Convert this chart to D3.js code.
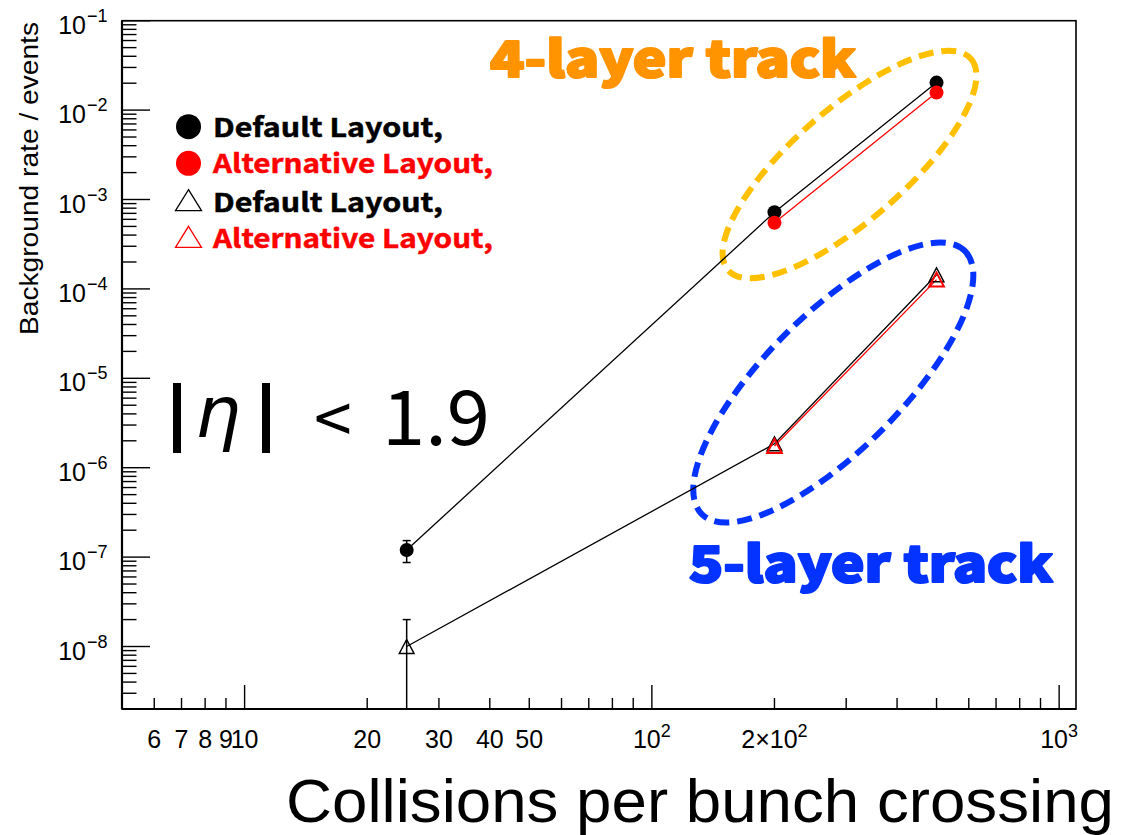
<!DOCTYPE html>
<html>
<head>
<meta charset="utf-8">
<script src="https://cdn.jsdelivr.net/npm/d3@7"></script>
<style>
  body { margin: 0; background: #fff; }
  svg { display: block; }
</style>
</head>
<body>
<svg id="chart" width="1125" height="835"></svg>
<script>
// ---- data -------------------------------------------------------------
const pileup = [25, 200, 500];

// 4-layer tracks (filled circles)
const defaultFourLayer    = [1.2e-7, 7.2e-4, 2.03e-2];
const defaultFourLayerErr = [0.33e-7, 0, 0];
const altFourLayer        = [null, 5.5e-4, 1.57e-2];

// 5-layer tracks (open triangles)
const defaultFiveLayer    = [1.0e-8, 1.85e-6, 1.44e-4];
const defaultFiveLayerErr = [1.0e-8, 0, 0];
const altFiveLayer        = [null, 1.75e-6, 1.27e-4];

const xDomain = [5, 1100];
const yDomain = [2e-9, 0.1];

// x tick labels: value, base text, superscript
const xTickValues = [6, 7, 8, 9, 10, 20, 30, 40, 50, 100, 200, 1000];
const xTickBase   = ["6", "7", "8", "9", "10", "20", "30", "40", "50", "10", "2\u00d710", "10"];
const xTickSup    = ["", "", "", "", "", "", "", "", "", "2", "2", "3"];

// y tick labels are decades
const yDecades = [-8, -7, -6, -5, -4, -3, -2, -1];

const legendLabels = ["Default Layout,", "Alternative Layout,", "Default Layout,", "Alternative Layout,"];
const legendColors = ["#000000", "#ff0000", "#000000", "#ff0000"];
const legendShapes = ["circle", "circle", "triangle", "triangle"];

// ---- layout -----------------------------------------------------------
const plot = { left: 122, right: 1076, top: 20.7, bottom: 709 };

const x = d3.scaleLog().domain(xDomain).range([plot.left, plot.right]);
const y = d3.scaleLog().domain(yDomain).range([plot.bottom, plot.top]);

const svg = d3.select("#chart");

svg.append("defs").append("clipPath").attr("id", "plotClip")
  .append("rect")
  .attr("x", plot.left).attr("y", plot.top)
  .attr("width", plot.right - plot.left).attr("height", plot.bottom - plot.top);

// ---- frame and ticks --------------------------------------------------
const axisG = svg.append("g").attr("stroke", "#000");

axisG.append("rect")
  .attr("x", plot.left).attr("y", plot.top)
  .attr("width", plot.right - plot.left).attr("height", plot.bottom - plot.top)
  .attr("fill", "none").attr("stroke-width", 1.6);
axisG.append("line")
  .attr("x1", plot.left).attr("x2", plot.left)
  .attr("y1", plot.top).attr("y2", plot.bottom).attr("stroke-width", 2.2);
axisG.append("line")
  .attr("x1", plot.left).attr("x2", plot.right)
  .attr("y1", plot.bottom).attr("y2", plot.bottom).attr("stroke-width", 2.2);

// y ticks: major at decades, minor at 2..9
const yTicks = [];
for (let e = -9; e <= -1; e++) {
  for (let m = 1; m <= 9; m++) {
    const v = m * Math.pow(10, e);
    if (v >= yDomain[0] * 0.999 && v <= yDomain[1] * 1.001) yTicks.push({ v, major: m === 1 });
  }
}
axisG.selectAll(".ytick").data(yTicks).join("line")
  .attr("x1", plot.left)
  .attr("x2", d => plot.left + (d.major ? 28 : 14.5))
  .attr("y1", d => y(d.v)).attr("y2", d => y(d.v))
  .attr("stroke-width", 1.4);

// x ticks
const xTicks = [];
for (let e = 0; e <= 3; e++) {
  for (let m = 1; m <= 9; m++) {
    const v = m * Math.pow(10, e);
    if (v >= xDomain[0] && v <= xDomain[1]) xTicks.push({ v, major: m === 1 });
  }
}
axisG.selectAll(".xtick").data(xTicks).join("line")
  .attr("x1", d => x(d.v)).attr("x2", d => x(d.v))
  .attr("y1", plot.bottom)
  .attr("y2", d => plot.bottom - (d.major ? 24 : 11))
  .attr("stroke-width", 1.4);

// y tick labels 10^n
const yLab = svg.append("g").attr("font-family", "'Liberation Sans', Arial, sans-serif").attr("fill", "#000");
yDecades.forEach(e => {
  const yy = y(Math.pow(10, e));
  yLab.append("text")
    .attr("x", 86).attr("y", yy + 13)
    .attr("text-anchor", "end").attr("font-size", 25)
    .text("10");
  yLab.append("text")
    .attr("x", 87).attr("y", yy + 1)
    .attr("font-size", 18)
    .text("\u2212" + Math.abs(e));
});

// x tick labels
const xLab = svg.append("g").attr("font-family", "'Liberation Sans', Arial, sans-serif").attr("fill", "#000");
xTickValues.forEach((v, i) => {
  const t = xLab.append("text")
    .attr("x", x(v)).attr("y", 748)
    .attr("text-anchor", "middle").attr("font-size", 25);
  t.append("tspan").text(xTickBase[i]);
  if (xTickSup[i]) {
    t.append("tspan").attr("dy", -11).attr("font-size", 18).text(xTickSup[i]);
  }
});

// axis titles
svg.append("text")
  .attr("x", 1114).attr("y", 822)
  .attr("text-anchor", "end")
  .attr("font-family", "'Liberation Sans', Arial, sans-serif")
  .attr("font-size", 62)
  .attr("textLength", 828).attr("lengthAdjust", "spacingAndGlyphs")
  .text("Collisions per bunch crossing");

svg.append("text")
  .attr("transform", "translate(38,22) rotate(-90)")
  .attr("text-anchor", "end")
  .attr("font-family", "'Liberation Sans', Arial, sans-serif")
  .attr("font-size", 25)
  .attr("textLength", 313).attr("lengthAdjust", "spacingAndGlyphs")
  .text("Background rate / events");

// ---- annotations ------------------------------------------------------
const ann = svg.append("g");

ann.append("ellipse")
  .attr("transform", "translate(849.5,164.5) rotate(-41)")
  .attr("rx", 161).attr("ry", 56)
  .attr("fill", "none").attr("stroke", "#ffc000")
  .attr("stroke-width", 6).attr("stroke-dasharray", "15 8");

ann.append("ellipse")
  .attr("transform", "translate(833.3,382.5) rotate(-45)")
  .attr("rx", 186).attr("ry", 68)
  .attr("fill", "none").attr("stroke", "#0433ff")
  .attr("stroke-width", 6).attr("stroke-dasharray", "15 8");

ann.append("text")
  .attr("x", 490).attr("y", 77)
  .attr("font-family", "'Noto Sans CJK JP', 'Noto Sans', sans-serif")
  .attr("font-weight", 900).attr("font-size", 50)
  .attr("fill", "#ff9300").attr("stroke", "#ff9300").attr("stroke-width", 2.2)
  .attr("stroke-linejoin", "round")
  .attr("textLength", 366).attr("lengthAdjust", "spacingAndGlyphs")
  .text("4-layer track");

ann.append("text")
  .attr("x", 689).attr("y", 582)
  .attr("font-family", "'Noto Sans CJK JP', 'Noto Sans', sans-serif")
  .attr("font-weight", 900).attr("font-size", 50)
  .attr("fill", "#0433ff").attr("stroke", "#0433ff").attr("stroke-width", 2.2)
  .attr("stroke-linejoin", "round")
  .attr("textLength", 364).attr("lengthAdjust", "spacingAndGlyphs")
  .text("5-layer track");

// |eta| < 1.9
const etaG = ann.append("g").attr("fill", "#000");
etaG.append("rect").attr("x", 173).attr("y", 383).attr("width", 8).attr("height", 70);
etaG.append("rect").attr("x", 262).attr("y", 383).attr("width", 8).attr("height", 70);
etaG.append("text")
  .attr("x", 195).attr("y", 437)
  .attr("font-family", "'DejaVu Sans', sans-serif").attr("font-style", "italic")
  .attr("font-size", 72)
  .text("\u03b7");
etaG.append("text")
  .attr("x", 314).attr("y", 444)
  .attr("font-family", "'Noto Sans CJK JP', sans-serif")
  .attr("font-weight", 400).attr("font-size", 68)
  .text("<");
etaG.append("text")
  .attr("x", 382).attr("y", 445)
  .attr("font-family", "'Noto Sans CJK JP', sans-serif")
  .attr("font-weight", 400).attr("font-size", 76)
  .attr("textLength", 108).attr("lengthAdjust", "spacingAndGlyphs")
  .text("1.9");

// ---- data marks -------------------------------------------------------
const dataG = svg.append("g").attr("clip-path", "url(#plotClip)");

function series(vals, errs) {
  return pileup.map((p, i) => ({ x: p, y: vals[i], e: errs ? errs[i] : 0 }));
}
const s4def = series(defaultFourLayer, defaultFourLayerErr);
const s4alt = series(altFourLayer);
const s5def = series(defaultFiveLayer, defaultFiveLayerErr);
const s5alt = series(altFiveLayer);

const line = d3.line()
  .defined(d => d.y != null)
  .x(d => x(d.x)).y(d => y(d.y));

dataG.append("path").datum(s4def).attr("d", line).attr("fill", "none").attr("stroke", "#000").attr("stroke-width", 1.3);
dataG.append("path").datum(s5def).attr("d", line).attr("fill", "none").attr("stroke", "#000").attr("stroke-width", 1.3);
dataG.append("path").datum(s4alt).attr("d", line).attr("fill", "none").attr("stroke", "#ff0000").attr("stroke-width", 1.3);
dataG.append("path").datum(s5alt).attr("d", line).attr("fill", "none").attr("stroke", "#ff0000").attr("stroke-width", 1.3);

// error bars
function errorBars(data, color) {
  const withErr = data.filter(d => d.y != null && d.e > 0);
  const g = dataG.append("g").attr("stroke", color).attr("stroke-width", 1.5);
  withErr.forEach(d => {
    const hi = d.y + d.e;
    const lo = Math.max(d.y - d.e, yDomain[0] * 0.5);
    const cx = x(d.x);
    g.append("line").attr("x1", cx).attr("x2", cx).attr("y1", y(hi)).attr("y2", y(lo));
    g.append("line").attr("x1", cx - 4).attr("x2", cx + 4).attr("y1", y(hi)).attr("y2", y(hi));
    if (d.y - d.e > yDomain[0]) {
      g.append("line").attr("x1", cx - 4).attr("x2", cx + 4).attr("y1", y(lo)).attr("y2", y(lo));
    }
  });
}
errorBars(s4def, "#000");
errorBars(s5def, "#000");

const tri = s => `M0,${-s}L${s * 1.05},${s}L${-s * 1.05},${s}Z`;

function circles(data, color) {
  dataG.append("g").selectAll("circle").data(data.filter(d => d.y != null)).join("circle")
    .attr("cx", d => x(d.x)).attr("cy", d => y(d.y)).attr("r", 7)
    .attr("fill", color);
}
function triangles(data, color, width) {
  dataG.append("g").selectAll("path").data(data.filter(d => d.y != null)).join("path")
    .attr("transform", d => `translate(${x(d.x)},${y(d.y)})`)
    .attr("d", tri(7))
    .attr("fill", "#fff").attr("fill-opacity", 0)
    .attr("stroke", color).attr("stroke-width", width);
}
circles(s4def, "#000");
circles(s4alt, "#ff0000");
triangles(s5def, "#000", 1.5);
triangles(s5alt, "#ff0000", 2);

// ---- legend -----------------------------------------------------------
const legend = svg.append("g");
const legendRowsY = [136.7, 173.3, 211.7, 248.3];
legendLabels.forEach((label, i) => {
  const by = legendRowsY[i];
  if (legendShapes[i] === "circle") {
    legend.append("circle").attr("cx", 188.5).attr("cy", by - 10).attr("r", 12.5).attr("fill", legendColors[i]);
  } else {
    legend.append("path")
      .attr("d", `M188.5,${by - 22}L201.5,${by - 1}L175.5,${by - 1}Z`)
      .attr("fill", "none").attr("stroke", legendColors[i]).attr("stroke-width", 1.3);
  }
  legend.append("text")
    .attr("x", 213).attr("y", by)
    .attr("font-family", "'Noto Sans CJK JP', 'Noto Sans', sans-serif")
    .attr("font-weight", 700).attr("font-size", 26)
    .attr("fill", legendColors[i]).attr("stroke", legendColors[i]).attr("stroke-width", 0.5)
    .attr("textLength", i % 2 === 0 ? 230 : 280).attr("lengthAdjust", "spacingAndGlyphs")
    .text(label);
});
</script>
</body>
</html>
